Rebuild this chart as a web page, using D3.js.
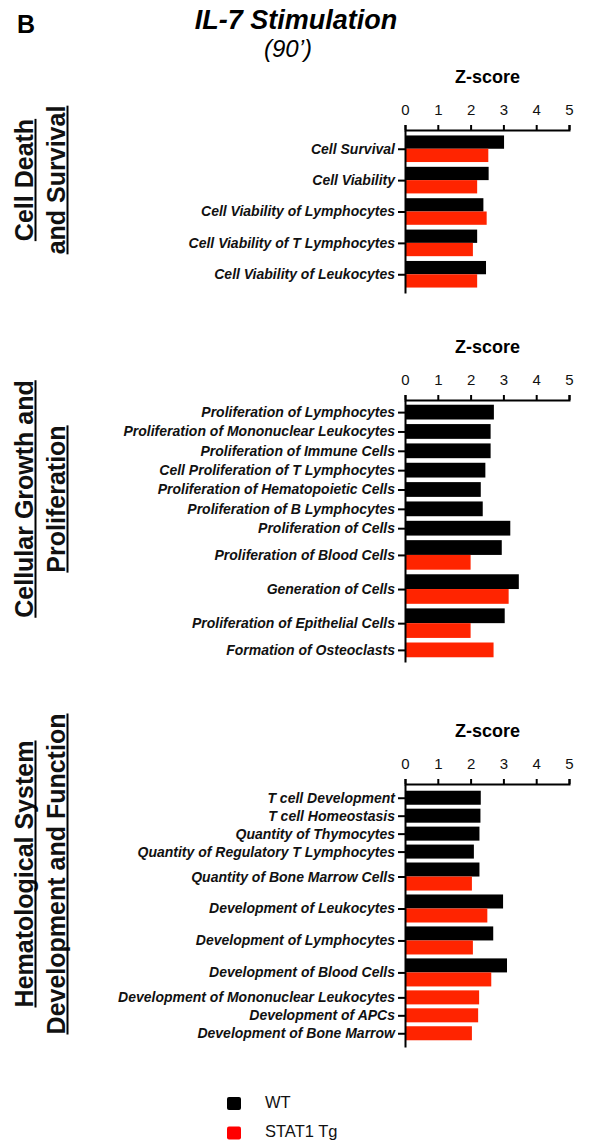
<!DOCTYPE html>
<html>
<head>
<meta charset="utf-8">
<script src="https://cdn.jsdelivr.net/npm/d3@7"></script>
<style>
  html, body { margin: 0; padding: 0; background: #fff; }
  svg { display: block; font-family: "Liberation Sans", Arial, sans-serif; }
</style>
</head>
<body>
<svg id="chart" width="594" height="1142"></svg>
<script>
/* ---------- data ---------- */
const zTicks = [0, 1, 2, 3, 4, 5];
const seriesNames = ["WT", "STAT1 Tg"];

const deathCats = [
  "Cell Survival", "Cell Viability", "Cell Viability of Lymphocytes",
  "Cell Viability of T Lymphocytes", "Cell Viability of Leukocytes"
];
const deathWT = [3.02, 2.55, 2.39, 2.20, 2.47];
const deathSTAT1 = [2.54, 2.20, 2.49, 2.07, 2.20];

const growthCats = [
  "Proliferation of Lymphocytes", "Proliferation of Mononuclear Leukocytes",
  "Proliferation of Immune Cells", "Cell Proliferation of T Lymphocytes",
  "Proliferation of Hematopoietic Cells", "Proliferation of B Lymphocytes",
  "Proliferation of Cells", "Proliferation of Blood Cells", "Generation of Cells",
  "Proliferation of Epithelial Cells", "Formation of Osteoclasts"
];
const growthWT = [2.71, 2.61, 2.61, 2.45, 2.31, 2.37, 3.21, 2.95, 3.47, 3.04, null];
const growthSTAT1 = [null, null, null, null, null, null, null, 2.00, 3.16, 2.00, 2.70];

const hemaCats = [
  "T cell Development", "T cell Homeostasis", "Quantity of Thymocytes",
  "Quantity of Regulatory T Lymphocytes", "Quantity of Bone Marrow Cells",
  "Development of Leukocytes", "Development of Lymphocytes", "Development of Blood Cells",
  "Development of Mononuclear Leukocytes", "Development of APCs", "Development of Bone Marrow"
];
const hemaWT = [2.31, 2.30, 2.27, 2.10, 2.27, 2.99, 2.69, 3.11, null, null, null];
const hemaSTAT1 = [null, null, null, null, 2.04, 2.51, 2.07, 2.63, 2.26, 2.23, 2.04];

/* ---------- setup ---------- */
const svg = d3.select("#chart");
const BLACK = "#000";
const RED = "#ff2400";
const x = d3.scaleLinear().domain([0, 5]).range([405, 569]);

// header
svg.append("text").attr("x", 17).attr("y", 33)
  .attr("font-size", 25).attr("font-weight", "bold").text("B");
svg.append("text").attr("x", 296).attr("y", 29).attr("text-anchor", "middle")
  .attr("font-size", 27).attr("font-weight", "bold").attr("font-style", "italic")
  .text("IL-7 Stimulation");
svg.append("text").attr("x", 288).attr("y", 57).attr("text-anchor", "middle")
  .attr("font-size", 24).attr("font-style", "italic").text("(90\u2019)");

/* ---------- one panel ---------- */
function drawPanel(cfg) {
  const { cats, wt, st, top, bottom, gapU, padU, groupLines, groupY } = cfg;
  const g = svg.append("g");

  // stack rows: each bar = 1 unit
  const rows = [];
  let u = padU;
  cats.forEach((c, i) => {
    const n = (wt[i] != null ? 1 : 0) + (st[i] != null ? 1 : 0);
    rows.push({ name: c, start: u, n, wt: wt[i], st: st[i] });
    u += n + gapU;
  });
  const total = u - gapU + padU;
  const y = d3.scaleLinear().domain([0, total]).range([top, bottom]);
  const bh = y(1) - y(0);

  // bars
  const bars = [];
  rows.forEach((r) => {
    let s = r.start;
    if (r.wt != null) { bars.push({ v: r.wt, s, c: BLACK }); s += 1; }
    if (r.st != null) { bars.push({ v: r.st, s, c: RED }); }
  });
  g.selectAll("rect.bar").data(bars).enter().append("rect")
    .attr("class", "bar")
    .attr("x", x(0))
    .attr("y", (d) => y(d.s))
    .attr("width", (d) => x(d.v) - x(0))
    .attr("height", bh)
    .attr("fill", (d) => d.c);

  // y axis
  const centers = rows.map((r) => r.start + r.n / 2);
  const yAxis = g.append("g").attr("transform", `translate(${x(0)},0)`)
    .call(d3.axisLeft(y).tickValues(centers).tickSize(7).tickSizeOuter(0).tickPadding(3)
      .tickFormat((d, i) => rows[i].name));
  yAxis.select(".domain").attr("stroke-width", 2);
  yAxis.selectAll(".tick line").attr("stroke-width", 2);
  yAxis.selectAll(".tick text")
    .attr("font-size", 14).attr("font-weight", "bold").attr("font-style", "italic")
    .attr("font-family", "Liberation Sans, Arial, sans-serif").attr("fill", "#111");

  // x axis on top
  const xAxis = g.append("g").attr("transform", `translate(0,${top})`)
    .call(d3.axisTop(x).tickValues(zTicks).tickFormat(d3.format("d"))
      .tickSize(5).tickSizeOuter(5).tickPadding(10));
  xAxis.select(".domain").attr("stroke-width", 2);
  xAxis.selectAll(".tick line").attr("stroke-width", 2);
  xAxis.selectAll(".tick text")
    .attr("font-size", 15).attr("font-family", "Liberation Sans, Arial, sans-serif").attr("fill", "#111");

  g.append("text").attr("x", (x(0) + x(5)) / 2 + 0.5).attr("y", top - 47.5)
    .attr("text-anchor", "middle").attr("font-size", 18).attr("font-weight", "bold")
    .text("Z-score");

  // rotated group label, underlined
  const lbl = g.append("g").attr("transform", `translate(0,${groupY}) rotate(-90)`);
  groupLines.forEach((t, i) => {
    const base = 33 + i * 32;
    const tx = lbl.append("text").attr("x", 0).attr("y", base)
      .attr("text-anchor", "middle").attr("font-size", 25).attr("font-weight", "bold")
      .attr("fill", "#111").text(t);
    const w = tx.node().getComputedTextLength();
    lbl.append("line").attr("x1", -w / 2).attr("x2", w / 2)
      .attr("y1", base + 2.5).attr("y2", base + 2.5)
      .attr("stroke", "#000").attr("stroke-width", 2);
  });
}

drawPanel({
  cats: deathCats, wt: deathWT, st: deathSTAT1,
  top: 130, bottom: 293, gapU: 0.36, padU: 0.41,
  groupLines: ["Cell Death", "and Survival"], groupY: 180
});
drawPanel({
  cats: growthCats, wt: growthWT, st: growthSTAT1,
  top: 400, bottom: 662, gapU: 0.31, padU: 0.32,
  groupLines: ["Cellular Growth and", "Proliferation"], groupY: 499
});
drawPanel({
  cats: hemaCats, wt: hemaWT, st: hemaSTAT1,
  top: 784, bottom: 1047, gapU: 0.28, padU: 0.48,
  groupLines: ["Hematological System", "Development and Function"], groupY: 874
});

/* ---------- legend ---------- */
const legend = svg.append("g");
const legendColors = [BLACK, "#ff0000"];
seriesNames.forEach((s, i) => {
  const yy = 1097 + i * 29.5;
  legend.append("rect").attr("x", 227).attr("y", yy).attr("width", 14).attr("height", 13)
    .attr("rx", 2).attr("fill", legendColors[i]);
  legend.append("text").attr("x", 265).attr("y", yy + 10.5)
    .attr("font-size", 16.5).attr("fill", "#111").text(s);
});
</script>
</body>
</html>
